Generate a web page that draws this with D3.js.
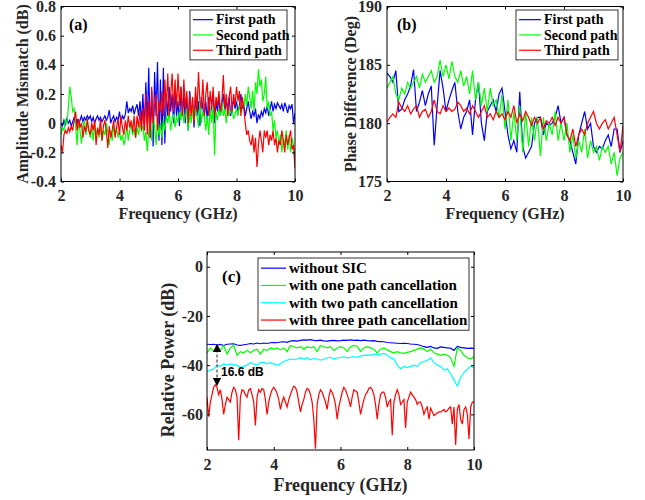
<!DOCTYPE html>
<html>
<head>
<meta charset="utf-8">
<script src="https://cdn.jsdelivr.net/npm/d3@7"></script>
<style>
  body { margin: 0; background: #fff; }
  svg { font-family: "Liberation Serif", "Times New Roman", serif; font-weight: bold; }
</style>
</head>
<body>
<div id="chart"></div>
<script>
// sampling grids (GHz)
let freqFine = d3.range(0, 161).map(i => 2 + i * 0.05);
let freqCoarse = d3.range(0, 81).map(i => 2 + i * 0.1);

// (a) amplitude mismatch, dB (fine grid)
let ampFirst = [0.0,-0.02,0.02,-0.01,0.03,0.0,0.02,-0.02,0.01,0.04,
  0.0,0.03,-0.03,0.02,0.05,0.01,0.04,0.02,0.05,0.03,
  0.05,0.01,0.04,0.0,0.03,0.05,0.02,0.04,0.01,0.03,
  0.05,0.02,0.04,0.09,0.0,0.03,0.05,0.01,0.04,0.02,
  0.08,0.0,0.05,0.03,0.06,0.15,0.07,0.1,0.08,0.12,
  0.06,0.1,0.13,0.05,0.15,0.0,0.2,-0.05,0.28,0.0,
  0.38,-0.1,0.22,-0.16,0.35,0.05,0.42,-0.12,0.3,-0.15,
  0.38,-0.14,0.2,0.05,0.25,0.08,0.2,0.0,0.22,0.05,
  0.15,-0.02,0.25,0.05,0.2,0.0,0.18,-0.05,0.22,0.08,
  0.12,-0.03,0.2,0.05,0.15,-0.02,0.18,0.1,0.05,0.15,
  0.02,0.18,0.05,0.12,0.2,0.0,0.15,0.08,0.18,0.05,
  0.12,0.2,0.08,0.15,0.1,0.18,0.05,0.12,0.15,0.1,
  0.15,0.08,0.12,0.2,0.1,0.13,0.05,0.1,0.15,0.08,
  0.03,0.08,0.05,0.1,0.0,0.06,0.03,0.08,0.05,0.1,
  0.07,0.12,0.05,0.1,0.15,0.08,0.13,0.1,0.14,0.12,
  0.1,0.13,0.08,0.14,0.11,0.07,0.12,0.1,0.13,0.0,
  0.07];
let ampSecond = [-0.08,-0.03,-0.05,0.02,0.0,0.1,0.25,0.18,0.08,0.1,
  -0.02,-0.15,0.02,-0.05,-0.14,-0.03,0.02,-0.08,0.0,-0.05,
  -0.1,-0.03,-0.12,0.0,-0.08,-0.04,-0.1,-0.02,-0.12,-0.05,
  -0.08,0.0,-0.06,-0.15,-0.05,-0.12,-0.02,-0.08,-0.03,-0.1,
  -0.05,-0.12,-0.08,-0.15,-0.1,-0.02,-0.12,-0.05,0.0,-0.08,
  -0.04,-0.1,-0.03,-0.08,0.0,-0.05,-0.02,-0.12,-0.06,-0.19,
  -0.05,0.02,-0.12,0.05,-0.02,-0.15,0.03,-0.08,0.0,-0.1,
  0.02,-0.05,0.05,0.0,0.08,-0.05,0.03,0.06,-0.03,0.05,
  0.0,0.08,0.02,0.12,0.0,0.05,0.1,-0.05,0.08,0.0,
  0.12,0.02,0.1,0.05,-0.03,0.15,0.0,0.08,0.05,-0.05,
  0.05,-0.08,0.1,0.0,0.12,-0.22,0.08,0.02,0.1,0.05,
  0.15,0.05,0.1,0.0,0.12,0.05,0.08,0.1,0.03,0.06,
  0.1,0.05,0.12,0.08,0.15,0.1,0.2,0.12,0.25,0.18,
  0.1,0.22,0.08,0.28,0.2,0.37,0.25,0.3,0.15,0.2,
  0.32,0.1,0.15,0.05,0.08,-0.05,0.02,-0.1,-0.05,-0.15,
  -0.08,-0.2,-0.1,-0.15,-0.05,-0.18,-0.08,-0.2,-0.1,-0.15,
  -0.28];
let ampThird = [-0.15,-0.2,-0.08,-0.05,-0.07,-0.03,-0.06,-0.02,-0.05,0.02,
  0.08,-0.05,0.03,-0.03,0.0,-0.1,-0.02,-0.06,0.03,-0.05,
  -0.08,0.0,-0.05,0.02,-0.15,-0.03,-0.08,0.03,-0.12,-0.02,
  0.02,-0.05,-0.17,-0.02,-0.1,-0.05,0.02,-0.1,-0.03,0.03,
  -0.08,0.05,-0.03,-0.08,0.02,-0.05,0.05,-0.03,0.02,-0.06,
  0.05,-0.1,0.05,-0.03,0.08,-0.05,0.1,-0.05,0.2,-0.08,
  0.15,-0.1,0.25,0.0,0.12,0.2,-0.05,0.15,0.08,0.22,
  0.05,0.3,0.1,0.34,0.05,0.2,0.34,0.08,0.3,0.1,
  0.34,0.12,0.25,0.05,0.3,0.1,0.22,0.0,0.2,0.05,
  0.18,0.0,0.25,0.08,0.35,0.15,0.1,0.3,0.05,0.2,
  0.28,0.05,0.22,0.1,0.25,0.05,0.18,0.12,0.22,0.08,
  0.15,0.33,0.1,0.2,0.05,0.18,0.25,0.08,0.2,0.12,
  0.25,0.15,0.22,0.05,0.18,0.1,0.0,-0.08,-0.05,-0.12,
  -0.15,-0.08,-0.2,-0.1,-0.3,-0.15,-0.05,-0.12,-0.2,-0.05,
  -0.1,-0.05,-0.15,-0.08,-0.12,-0.05,-0.15,-0.1,-0.2,-0.12,
  -0.15,-0.05,-0.12,-0.2,-0.08,-0.15,-0.1,-0.05,-0.18,-0.15,
  -0.31];

// (b) phase difference, deg (coarse grid)
let phaseFirst = [184.3,184,183.5,184.5,181,181.2,182,182.5,183.2,184.6,
  181,181.8,182.8,181.5,182.5,183.2,178.1,181.5,184.5,183,
  181,182,182.8,183.5,181,179.5,180.5,181,182,179,
  182,183.5,180,178.5,181,181.5,182,181,182.5,183,
  181,179,177.8,178.5,177.5,182.7,178,177,177.5,178,
  180,180.5,180.5,179,180,179.8,180,180.5,181.5,180,
  180.5,179,178.5,177.5,176.5,179,180,181,179.5,180,
  178,177.5,178,177.8,178.5,179,178,179.5,179.5,177.5,
  178.5];
let phaseSecond = [183,183.5,184,182.5,182,183,182.5,183.5,183,183.5,
  184,183,184.2,183.5,184,184.5,183.5,184,185.4,184,
  185,183.8,185.3,184,183.5,184.5,183.2,184,182.5,184.5,
  182,183.5,181.5,183,181,183,181.5,182,180.5,182.5,
  179.5,182,178.5,181,178.5,181.5,177.5,181,178,180.5,
  178.5,180.5,177.2,180.5,178.5,180,179,181,178.5,180,
  178.5,180,177.5,179,177,178.5,177.5,179.5,177,178.5,
  177.5,178,176.8,178,177.5,178,176.5,177.5,175.5,177,
  177.5];
let phaseThird = [180.1,180.5,180.8,180.5,181.8,181.3,181,181.5,180.8,181.2,
  181.5,180.5,181,181.2,180.5,181,182,181,180.8,181.5,
  181,181.3,181,181.2,181.8,181.5,181,181.3,180.8,181.5,
  181,180.5,181,181.5,180.5,180.8,180.3,181,180.5,180.8,
  180.3,181,180.5,181.5,180,180.8,180.2,181,180.5,179.8,
  180.5,180,180.5,179.5,180.2,180,180.5,179.8,180.5,180,
  180.5,179,178.5,179.5,178,179,179.5,179,180,180.5,
  181,180,179.5,180,180.3,179.5,180,180.5,179,177.5,
  179.8];

// (c) relative power, dB
let powNoSic = [-31.5,-31.6,-31.5,-31.8,-31.6,-32,-31.5,-31.4,-31.3,-31.8,
  -32,-31.7,-31.5,-31.2,-31.4,-31,-31.3,-31,-31.2,-30.9,
  -30.8,-30.9,-30.6,-30.5,-30.7,-30.2,-30,-30.2,-29.9,-29.7,
  -29.8,-29.6,-29.9,-30,-29.8,-30.1,-30.2,-30,-29.9,-30.1,
  -30,-29.8,-29.9,-29.7,-29.9,-29.8,-30,-29.8,-30,-30.1,
  -30,-30.3,-30.4,-30.5,-30.8,-30.9,-31,-31.1,-31.2,-31.1,
  -31.2,-31.4,-31.5,-31.6,-32,-32.5,-32.8,-32.4,-33,-33.2,
  -32.6,-32.8,-33,-33.1,-34,-32.4,-32.8,-33,-33.2,-33.1,
  -33.2];
let powOnePath = [-35,-33,-34.5,-32.5,-34,-32,-35.5,-33,-31.8,-36,
  -34.5,-35,-34,-35,-34,-33.5,-35.5,-33.5,-34,-33,
  -33.5,-33,-33.8,-33,-34.5,-32,-32.5,-33,-32.5,-33.5,
  -32.5,-33,-32.5,-34.5,-32,-32.5,-33,-32.5,-34,-33,
  -32.5,-33,-34.5,-32.5,-32,-32.3,-34.5,-33,-32.5,-33,
  -33.5,-35,-33.5,-33,-33.8,-34.5,-35,-34.5,-35,-35.2,
  -34.8,-34.5,-34,-33.5,-33,-33.5,-34.5,-33.5,-35,-35.5,
  -36,-35.5,-36,-37,-40.5,-33,-34,-36,-37,-37.5,
  -36.5];
let powTwoPath = [-42.5,-42,-41.5,-40,-40.5,-39.5,-40,-39.5,-39.8,-40,
  -41,-40.5,-40,-39,-39.5,-40,-39,-38.8,-39.5,-39,
  -39.5,-40,-39.5,-38.5,-38,-37.5,-37.8,-37.5,-37,-37.5,
  -37,-37.8,-37.3,-37.5,-38,-37.5,-37,-36.8,-37.5,-37,
  -37,-36.5,-37,-36.8,-36.5,-36.8,-36.3,-36,-35.8,-36,
  -35.5,-35.8,-35.5,-35.2,-36,-37,-37.5,-40,-41.5,-40.5,
  -41,-40.5,-40,-40.5,-39,-38.5,-38,-37,-39,-40,
  -40.5,-42,-41.5,-43.5,-46,-48.5,-45,-43,-41.5,-40.5,
  -41];
let powThreePath = [-53,-61,-55,-52,-49,-48,-49,-52,-50,-54,
  -60,-56,-53,-54,-55,-51,-49,-50,-53,-70.5,
  -53,-50,-50.5,-52,-53,-50,-49.5,-52,-55,-64.5,
  -53,-50,-51,-49.5,-50,-54,-60,-55,-52,-50,
  -49,-50,-51.5,-54,-58,-55,-53,-55,-57,-54,
  -52,-50,-48.5,-49,-51,-55,-59,-56,-54,-51,
  -49.5,-50,-52,-55,-62,-74,-56,-52,-50,-51,
  -53,-55,-58,-53,-50,-51,-53,-56,-62,-57,
  -54,-51,-49,-50,-52,-54,-57,-53,-50,-50.5,
  -51,-55,-60,-57,-54,-52,-51,-49.5,-49,-50,
  -52,-56,-62,-56,-52,-51,-51,-53,-57,-55,
  -54,-68.5,-55,-52,-50,-52,-56,-55,-54,-65.5,
  -55,-53,-51,-52,-53,-54,-56,-55,-55,-57,
  -60,-58,-57,-62,-57.5,-59,-60.5,-60,-59.5,-59,
  -59,-58.5,-58,-59,-58.5,-57.5,-57,-64,-57,-72.5,
  -58,-56,-62,-64,-58,-57,-60,-70,-57,-55,
  -55];

let freqTicks = [2, 4, 6, 8, 10];

let width = 645, height = 500;

let svg = d3.select("#chart")
            .append("svg")
            .attr("width", width)
            .attr("height", height);

svg.append("defs").append("marker")
   .attr("id", "arrowhead")
   .attr("viewBox", "0 0 10 10")
   .attr("refX", 9).attr("refY", 5)
   .attr("markerWidth", 7).attr("markerHeight", 7)
   .attr("orient", "auto-start-reverse")
   .append("path")
   .attr("d", "M0,0 L10,5 L0,10 z")
   .attr("fill", "#000");

// matlab-like labels: plain hyphen, "0" without decimals
let tickFmt = d => d === 0 ? "0" : String(d).replace("\u2212", "-");

function drawPanel(p) {
  let g = svg.append("g");

  let x = d3.scaleLinear().domain([2, 10]).range([p.left, p.right]);
  let y = d3.scaleLinear().domain(p.yDomain).range([p.bottom, p.top]);

  let clipId = "clip-" + p.tag;
  g.append("clipPath").attr("id", clipId)
   .append("rect")
   .attr("x", p.left).attr("y", p.top)
   .attr("width", p.right - p.left).attr("height", p.bottom - p.top);

  let line = d3.line().x(d => x(d[0])).y(d => y(d[1]));

  p.series.forEach(s => {
    g.append("path")
     .datum(s.x.map((f, i) => [f, s.y[i]]))
     .attr("d", line)
     .attr("fill", "none")
     .attr("stroke", s.color)
     .attr("stroke-width", 1.2)
     .attr("clip-path", `url(#${clipId})`);
  });

  // axes, ticks pointing inwards
  let xb = g.append("g")
            .attr("transform", `translate(0,${p.bottom})`)
            .call(d3.axisBottom(x).tickValues(freqTicks).tickSizeInner(-3).tickSizeOuter(0).tickPadding(p.xPad).tickFormat(tickFmt));
  let yl = g.append("g")
            .attr("transform", `translate(${p.left},0)`)
            .call(d3.axisLeft(y).tickValues(p.yTicks).tickSizeInner(-3).tickSizeOuter(0).tickPadding(p.yPad).tickFormat(tickFmt));
  g.append("g")
   .attr("transform", `translate(0,${p.top})`)
   .call(d3.axisTop(x).tickValues(freqTicks).tickSizeInner(-3).tickSizeOuter(0).tickFormat(""));
  g.append("g")
   .attr("transform", `translate(${p.right},0)`)
   .call(d3.axisRight(y).tickValues(p.yTicks).tickSizeInner(-3).tickSizeOuter(0).tickFormat(""));

  g.selectAll(".domain").remove();
  g.selectAll(".tick line").attr("stroke", "#000");
  [xb, yl].forEach(a => a.selectAll("text")
                         .attr("fill", "#262626")
                         .style("font-family", "Liberation Serif, serif")
                         .style("font-weight", "bold")
                         .style("font-size", p.tickSize + "px"));

  g.append("rect")
   .attr("x", p.left).attr("y", p.top)
   .attr("width", p.right - p.left).attr("height", p.bottom - p.top)
   .attr("fill", "none").attr("stroke", "#000").attr("stroke-width", 1);

  g.append("text")
   .text("Frequency (GHz)")
   .attr("x", (p.left + p.right) / 2)
   .attr("y", p.xLabelY)
   .attr("text-anchor", "middle")
   .attr("fill", "#262626")
   .style("font-size", p.labelSize + "px");

  g.append("text")
   .text(p.yLabel)
   .attr("transform", `translate(${p.yLabelX},${p.yLabelY}) rotate(-90)`)
   .attr("text-anchor", "middle")
   .attr("fill", "#262626")
   .style("font-size", p.labelSize + "px");

  g.append("text")
   .text(p.panelLabel)
   .attr("x", p.panelLabelX)
   .attr("y", p.panelLabelY)
   .style("font-size", p.panelSize + "px");

  // legend
  let lg = p.legend;
  g.append("rect")
   .attr("x", lg.x).attr("y", lg.y)
   .attr("width", lg.w).attr("height", lg.rowH * p.series.length + lg.padY * 2)
   .attr("fill", "#fff").attr("stroke", "#000").attr("stroke-width", 0.8);
  p.series.forEach((s, i) => {
    let cy = lg.y + lg.padY + lg.rowH * (i + 0.5);
    g.append("line")
     .attr("x1", lg.x + 3).attr("x2", lg.x + 3 + lg.lineLen)
     .attr("y1", cy).attr("y2", cy)
     .attr("stroke", s.color).attr("stroke-width", 1.2);
    g.append("text")
     .text(s.name)
     .attr("x", lg.x + 6 + lg.lineLen)
     .attr("y", cy)
     .attr("dy", "0.33em")
     .style("font-size", lg.size + "px");
  });

  return { x, y, g };
}

drawPanel({
  tag: "a", left: 61, right: 295, top: 6.5, bottom: 181.5,
  yDomain: [-0.4, 0.8], yTicks: [-0.4, -0.2, 0, 0.2, 0.4, 0.6, 0.8],
  xPad: 8, yPad: 5, tickSize: 16, labelSize: 16, panelSize: 16,
  xLabelY: 219, yLabel: "Amplitude Mismatch (dB)", yLabelX: 28, yLabelY: 94,
  panelLabel: "(a)", panelLabelX: 69, panelLabelY: 30,
  legend: { x: 190, y: 10, w: 97, rowH: 15.3, padY: 2, lineLen: 20, size: 14 },
  series: [
    { name: "First path", x: freqFine, y: ampFirst, color: "#0000ff" },
    { name: "Second path", x: freqFine, y: ampSecond, color: "#00ff00" },
    { name: "Third path", x: freqFine, y: ampThird, color: "#ff0000" }
  ]
});

drawPanel({
  tag: "b", left: 387, right: 623, top: 6.5, bottom: 181.5,
  yDomain: [175, 190], yTicks: [175, 180, 185, 190],
  xPad: 8, yPad: 5, tickSize: 16, labelSize: 16, panelSize: 16,
  xLabelY: 219, yLabel: "Phase Difference (Deg)", yLabelX: 356, yLabelY: 94,
  panelLabel: "(b)", panelLabelX: 397, panelLabelY: 30,
  legend: { x: 516, y: 10, w: 102, rowH: 15.3, padY: 2, lineLen: 22, size: 14 },
  series: [
    { name: "First path", x: freqCoarse, y: phaseFirst, color: "#0000ff" },
    { name: "Second path", x: freqCoarse, y: phaseSecond, color: "#00ff00" },
    { name: "Third path", x: freqCoarse, y: phaseThird, color: "#ff0000" }
  ]
});

let pc = drawPanel({
  tag: "c", left: 207, right: 474, top: 252, bottom: 450,
  yDomain: [-74.5, 6], yTicks: [-60, -40, -20, 0],
  xPad: 9, yPad: 4, tickSize: 16, labelSize: 18, panelSize: 17,
  xLabelY: 491, yLabel: "Relative Power (dB)", yLabelX: 174, yLabelY: 360,
  panelLabel: "(c)", panelLabelX: 222, panelLabelY: 282,
  legend: { x: 258, y: 258, w: 211, rowH: 17.3, padY: 1.5, lineLen: 25, size: 15 },
  series: [
    { name: "without SIC", x: freqCoarse, y: powNoSic, color: "#0000ff" },
    { name: "with one path cancellation", x: freqCoarse, y: powOnePath, color: "#00ff00" },
    { name: "with two path cancellation", x: freqCoarse, y: powTwoPath, color: "#00ffff" },
    { name: "with three path cancellation", x: freqFine, y: powThreePath, color: "#ff0000" }
  ]
});

// 16.6 dB gap annotation
let gapAt = 2.3, gapTop = -31.6, gapBottom = -48.2;
pc.g.append("line")
  .attr("x1", pc.x(gapAt)).attr("x2", pc.x(gapAt))
  .attr("y1", pc.y(gapTop)).attr("y2", pc.y(gapBottom))
  .attr("stroke", "#444").attr("stroke-width", 1.2)
  .attr("stroke-dasharray", "3,2")
  .attr("marker-start", "url(#arrowhead)")
  .attr("marker-end", "url(#arrowhead)");
pc.g.append("text")
  .text("16.6 dB")
  .attr("x", pc.x(gapAt) + 4)
  .attr("y", pc.y(-44.3))
  .style("font-family", "Liberation Sans, Arial, sans-serif")
  .style("font-size", "12px");
</script>
</body>
</html>
